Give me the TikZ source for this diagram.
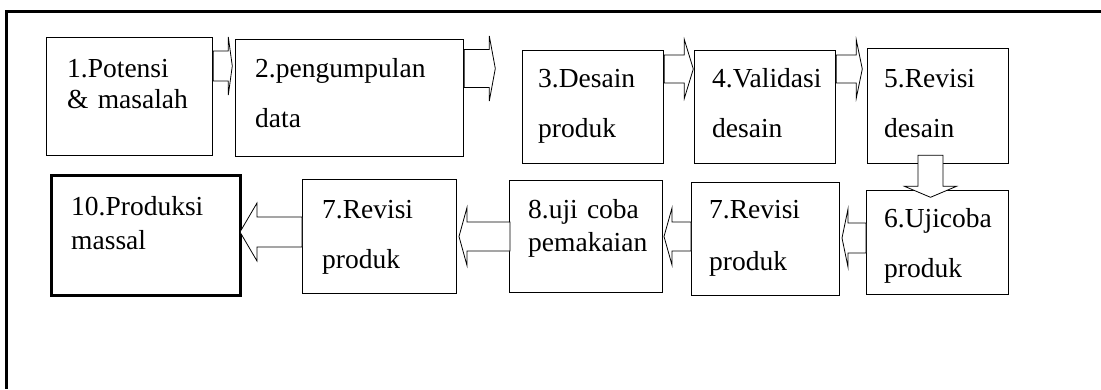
\documentclass[tikz,border=0pt]{standalone}
\usepackage{fontspec}
\setmainfont{Liberation Serif}
\usetikzlibrary{calc}
\tikzset{
    stepbox/.style = {draw, rectangle, line width=1.3pt, inner sep=0pt, anchor=north west},
    steptext/.style = {anchor=base west, inner sep=0pt, text width=#1, align=left},
    blockarrow/.style = {draw, fill=white, line width=0.8pt, line join=miter},
}
% block arrow: start, angle, shaft length, shaft half width, head half width, head length
\newcommand{\blockarrow}[6]{%
  \draw[blockarrow, shift={(#1)}, rotate=#2] (0,-#4) -- (#3,-#4) -- (#3,-#5) -- (#3+#6,0) -- (#3,#5) -- (#3,#4) -- (0,#4) -- cycle;}
\newcommand{\stepfont}[1]{\fontsize{27.5}{#1}\selectfont}

\begin{document}
\begin{tikzpicture}[x=1pt, y=-1pt]
\useasboundingbox (0,0) rectangle (1101,389);
\draw[line width=3pt] (1101,11.5) -- (6.5,11.5) -- (6.5,389);

% first row
\node[stepbox, minimum width=166pt, minimum height=118pt] (s1) at (46,37) {};
\node[stepbox, minimum width=228pt, minimum height=117pt] (s2) at (235,39) {};
\node[stepbox, minimum width=141pt, minimum height=113pt] (s3) at (522,50) {};
\node[stepbox, minimum width=141pt, minimum height=113pt] (s4) at (694,50) {};
\node[stepbox, minimum width=141pt, minimum height=115pt] (s5) at (867,48) {};

% second row
\node[stepbox, minimum width=142pt, minimum height=104pt] (s6) at (866,190) {};
\node[stepbox, minimum width=148pt, minimum height=113pt] (s7) at (691,182) {};
\node[stepbox, minimum width=153pt, minimum height=112pt] (s8) at (509,180) {};
\node[stepbox, minimum width=154pt, minimum height=114pt] (s9) at (302,179) {};
\node[stepbox, minimum width=189pt, minimum height=120pt, line width=3pt] (s10) at (50,174) {};

\node[steptext=150pt, font=\stepfont{31.5}] (t1) at ($(s1.north west)+(21,40)$) {1.Potensi\\\& masalah};
\node[steptext=210pt, font=\stepfont{50}] (t2) at ($(s2.north west)+(20,38)$) {2.pengumpulan\\data};
\node[steptext=125pt, font=\stepfont{50}] (t3) at ($(s3.north west)+(16,37)$) {3.Desain\\produk};
\node[steptext=125pt, font=\stepfont{50}] (t4) at ($(s4.north west)+(18,37)$) {4.Validasi\\desain};
\node[steptext=125pt, font=\stepfont{50}] (t5) at ($(s5.north west)+(17,39)$) {5.Revisi\\desain};
\node[steptext=125pt, font=\stepfont{50}] (t6) at ($(s6.north west)+(18,37)$) {6.Ujicoba\\produk};
\node[steptext=130pt, font=\stepfont{52}] (t7) at ($(s7.north west)+(18,36)$) {7.Revisi\\produk};
\node[steptext=140pt, font=\stepfont{33}] (t8) at ($(s8.north west)+(19,38)$) {8.uji coba\\pemakaian};
\node[steptext=135pt, font=\stepfont{50}] (t9) at ($(s9.north west)+(20,39)$) {7.Revisi\\produk};
\node[steptext=170pt, font=\stepfont{34}] (t10) at ($(s10.north west)+(21,41)$) {10.Produksi\\massal};

% arrows
\blockarrow{s1.east |- 0,66}{0}{15}{15}{29}{4}
\blockarrow{s2.east |- 0,68.5}{0}{25}{19}{32.5}{6}
\blockarrow{s3.east |- 0,69}{0}{20}{14}{29.5}{9}
\blockarrow{s4.east |- 0,69}{0}{20}{14}{29}{6}
\blockarrow{$(s5.south -| 930.5,0)+(0,-9)$}{-90}{31}{12.5}{26}{11}
\blockarrow{s6.west |- 0,238}{180}{18}{15}{29}{6}
\blockarrow{s7.west |- 0,236.5}{180}{19}{14.5}{28.5}{8}
\blockarrow{$(s8.west |- 0,236.5)+(1,0)$}{180}{43}{14.5}{29}{8}
\blockarrow{s9.west |- 0,232}{180}{45}{15}{29}{17}
\end{tikzpicture}
\end{document}
